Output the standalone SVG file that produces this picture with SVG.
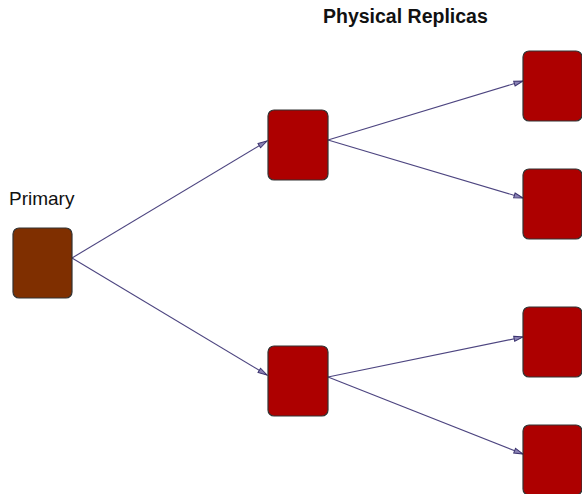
<svg xmlns="http://www.w3.org/2000/svg" width="582" height="494" viewBox="0 0 582 494">
<style>
.node rect{stroke:#333;stroke-width:1.2}
.primary{fill:#7f2f00}
.replica{fill:#ad0000}
.edge{fill:none;stroke:#4d4580;stroke-width:1.1;marker-end:url(#arr)}
.lbl{font-family:"Liberation Sans",Arial,sans-serif;font-size:19px;fill:#111}
.title{font-weight:bold;font-size:19.5px}
</style>
<defs>
<marker id="arr" markerUnits="userSpaceOnUse" markerWidth="11" markerHeight="8" refX="10" refY="3.5" orient="auto">
<path d="M1,1 L10,3.5 L1,6 Z" fill="#8a82b5" stroke="#3d3570" stroke-width="1"/>
</marker>
</defs>
<rect width="582" height="494" fill="#fff"/>
<text class="lbl title" x="323" y="23">Physical Replicas</text>
<text class="lbl" x="9" y="205">Primary</text>
<g id="edges">
<path class="edge" d="M72,258 L267,141"/>
<path class="edge" d="M72,258 L267,375"/>
<path class="edge" d="M328,140 L523,81"/>
<path class="edge" d="M328,140 L523,198"/>
<path class="edge" d="M328,377 L523,337"/>
<path class="edge" d="M328,377 L523,454"/>
</g>
<g id="primary" class="node"><rect class="primary" x="13" y="228" width="59" height="70" rx="6"/></g>
<g id="mid1" class="node"><rect class="replica" x="268" y="110" width="60" height="70" rx="6"/></g>
<g id="mid2" class="node"><rect class="replica" x="268" y="346" width="60" height="70" rx="6"/></g>
<g id="r1" class="node"><rect class="replica" x="523" y="51" width="59" height="70" rx="6"/></g>
<g id="r2" class="node"><rect class="replica" x="523" y="169" width="59" height="70" rx="6"/></g>
<g id="r3" class="node"><rect class="replica" x="523" y="307" width="59" height="70" rx="6"/></g>
<g id="r4" class="node"><rect class="replica" x="523" y="425" width="59" height="70" rx="6"/></g>
</svg>
